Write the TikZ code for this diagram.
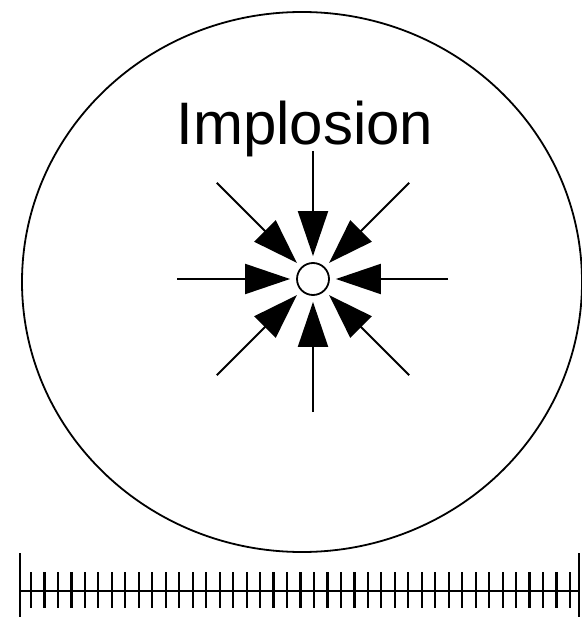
\documentclass[tikz,border=0pt]{standalone}
\usepackage{fontspec}
\setmainfont{Liberation Sans}
\usetikzlibrary{arrows.meta,calc}
\tikzset{
  outline/.style={line width=1.8pt},
  implarrow/.style={line width=2pt,-{Triangle[length=45pt,width=30pt]},shorten >=6pt},
  rulerline/.style={line width=2.4pt},
}
\begin{document}
\begin{tikzpicture}[x=1pt,y=-1pt]
\useasboundingbox (0,0) rectangle (581,617);
% outer circle
\draw[outline] (302,282) ellipse [x radius=280, y radius=270];
% title
\node[anchor=base,inner sep=0pt,font=\fontsize{60}{72}\selectfont] (title) at (305,145) {Implosion};
% centre
\node[circle,draw,line width=1.8pt,minimum size=32pt,inner sep=0pt] (c) at (313,279) {};
\foreach \a/\r [count=\i] in {90/133,45/136,0/135,-45/136,-90/128,-135/136,180/136,135/136}{
  \coordinate (s\i) at ($(c.center)+(\a:\r)$);
  \draw[implarrow] (s\i) -- (c);
}
% ruler
\coordinate (rl) at (20,591);
\coordinate (rr) at (579,591);
\draw[rulerline] (rl) -- (rr);
\draw[rulerline] (20,553) -- (20,617);
\draw[rulerline] (579,553) -- (579,617);
\foreach \k in {0,...,40}{
  \draw[line width=2.2pt] ({31+\k*13.475},572) -- ({31+\k*13.475},608);
}
\end{tikzpicture}
\end{document}
